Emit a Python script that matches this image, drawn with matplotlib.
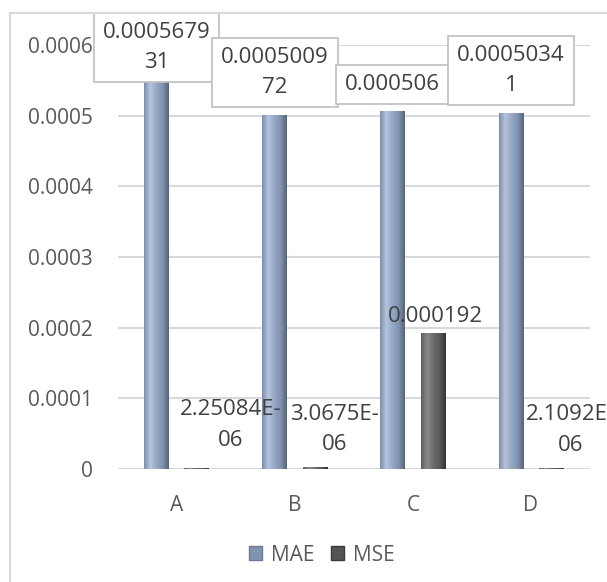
import numpy as np
import matplotlib.pyplot as plt
from matplotlib.patches import Rectangle
from matplotlib.colors import LinearSegmentedColormap

plt.rcParams['font.family'] = ['Open Sans', 'DejaVu Sans']

categories = ['A', 'B', 'C', 'D']
mae = [0.000567931, 0.000500972, 0.000506, 0.00050341]
mse = [2.25084e-06, 3.0675e-06, 0.000192, 2.1092e-06]
mae_labels = ['0.0005679\n31', '0.0005009\n72', '0.000506', '0.0005034\n1']
mse_labels = ['2.25084E-\n06', '3.0675E-\n06', '0.000192', '2.1092E-\n06']
yticks = [0, 0.0001, 0.0002, 0.0003, 0.0004, 0.0005, 0.0006]
ytick_labels = ['0', '0.0001', '0.0002', '0.0003', '0.0004', '0.0005', '0.0006']

# label nudges in points (x, y) for the MSE labels
mse_nudge = [(24, 12), (14, 8.5), (2, 4.5), (14, 8.5)]

fs = 15
lab_fs = 16
text_col = '#404040'
grid_col = '#d9d9d9'

fig = plt.figure(figsize=(6.07, 5.82), dpi=100)
ax = fig.add_axes([0.194, 0.194, 0.778, 0.729])

# chart frame
fig.patches.append(Rectangle((10 / 607, -0.05), 1.2, 1.05 - 13 / 582,
                             transform=fig.transFigure, fill=False,
                             edgecolor=grid_col, lw=1.5, zorder=0))

x = np.arange(len(categories))
w = 0.21
off = 0.17
mae_cmap = LinearSegmentedColormap.from_list(
    'mae', ['#7d8fac', '#b6c5de', '#95a7c4', '#8293b0', '#56657d'])
mse_cmap = LinearSegmentedColormap.from_list(
    'mse', ['#5e5e5e', '#8a8a8a', '#6a6a6a', '#5a5a5a', '#333333'])

bars_mae = ax.bar(x - off, mae, w, color='#8293b0', zorder=2, label='MAE')
bars_mse = ax.bar(x + off, mse, w, color='#5a5a5a', zorder=2, label='MSE')

grad = np.linspace(0, 1, 64).reshape(1, -1)
for bars, cmap in [(bars_mae, mae_cmap), (bars_mse, mse_cmap)]:
    for b in bars:
        x0, h = b.get_x(), b.get_height()
        im = ax.imshow(grad, cmap=cmap, aspect='auto', zorder=3,
                       extent=[x0, x0 + b.get_width(), 0, h])
        im.set_clip_path(b)

ax.set_xlim(-0.5, 3.5)
ax.set_ylim(0, 0.0006)
ax.set_yticks(yticks)
ax.set_yticklabels(ytick_labels)
ax.set_xticks(x)
ax.set_xticklabels(categories)
ax.tick_params(length=0, labelsize=fs, labelcolor='#595959')
ax.tick_params(axis='y', pad=18)
ax.tick_params(axis='x', pad=19)
for s in ax.spines.values():
    s.set_visible(False)
ax.grid(axis='y', color=grid_col, lw=1.5, zorder=0)
ax.set_axisbelow(True)

box = dict(boxstyle='square,pad=0.4', fc='white', ec='#bfbfbf', lw=1.2)
for i, (v, lab) in enumerate(zip(mae, mae_labels)):
    if v > 0.00053:
        ax.annotate(lab, xy=(x[i] - off, 1.0), xycoords=('data', 'axes fraction'),
                    xytext=(0, -2), textcoords='offset points',
                    ha='center', va='center', fontsize=lab_fs, color=text_col,
                    linespacing=1.6, bbox=box, zorder=5, annotation_clip=False)
    else:
        ax.annotate(lab, xy=(x[i] - off, v), xytext=(0, 12),
                    textcoords='offset points', ha='center', va='bottom',
                    fontsize=lab_fs, color=text_col, linespacing=1.6,
                    bbox=box, zorder=5, annotation_clip=False)

for i, (v, lab) in enumerate(zip(mse, mse_labels)):
    ax.annotate(lab, xy=(x[i] + off, v), xytext=mse_nudge[i],
                textcoords='offset points', ha='center', va='bottom',
                fontsize=lab_fs, color=text_col, linespacing=1.6, zorder=5,
                annotation_clip=False)

h1 = Rectangle((0, 0), 1, 1, fc='#8293b0', ec='#6a7b98')
h2 = Rectangle((0, 0), 1, 1, fc='#555555', ec='#3a3a3a')
fig.legend([h1, h2], ['MAE', 'MSE'], loc='center', bbox_to_anchor=(0.53, 0.046),
           ncol=2, frameon=False, fontsize=fs, labelcolor='#595959',
           handlelength=0.65, handleheight=0.65, handletextpad=0.4,
           columnspacing=0.8)

fig.savefig('out.png', dpi=100)
